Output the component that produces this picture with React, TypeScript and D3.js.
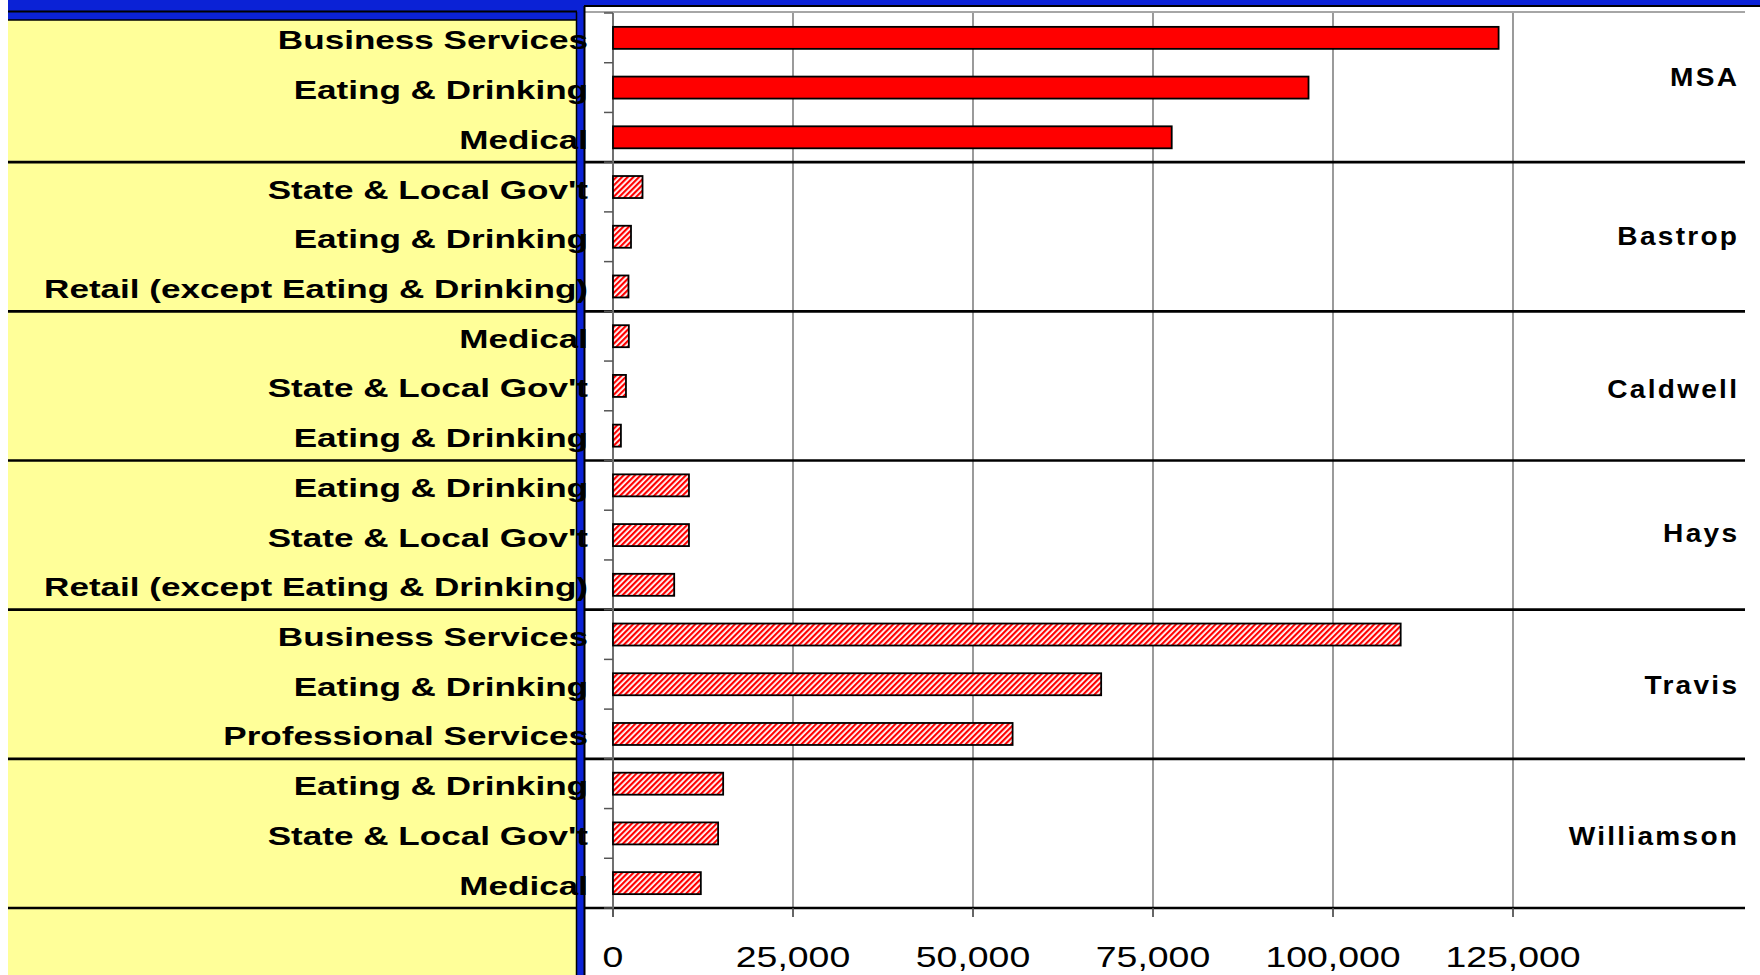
import React from "react";
import * as d3 from "d3";

const regions = ["MSA", "Bastrop", "Caldwell", "Hays", "Travis", "Williamson"];
const regionNudge = [-11, -1, 3, -3, 0, 2];

const categories = [
  "Business Services", "Eating & Drinking", "Medical",
  "State & Local Gov't", "Eating & Drinking", "Retail (except Eating & Drinking)",
  "Medical", "State & Local Gov't", "Eating & Drinking",
  "Eating & Drinking", "State & Local Gov't", "Retail (except Eating & Drinking)",
  "Business Services", "Eating & Drinking", "Professional Services",
  "Eating & Drinking", "State & Local Gov't", "Medical",
];

const values = [
  123000, 96600, 77600,
  4100, 2500, 2150,
  2200, 1800, 1100,
  10550, 10550, 8500,
  109400, 67800, 55500,
  15300, 14600, 12200,
];

const tickValues = [0, 25000, 50000, 75000, 100000, 125000];

const BLUE = "#0B22D6";
const YELLOW = "#FFFF99";
const FONT = "'Liberation Sans', Arial, Helvetica, sans-serif";

export default function App() {
  const W = 1760, H = 975;
  const x = d3.scaleLinear().domain([0, 125000]).range([613, 1513]);
  const p = 0.5575;
  const y = d3
    .scaleBand<number>()
    .domain(d3.range(categories.length))
    .range([13, 908])
    .paddingInner(p)
    .paddingOuter(p / 2);
  const step = y.step();
  const boundary = (k: number) => 13 + k * step;
  const fmt = d3.format(",");
  const lineRight = 1745;

  return (
    <svg
      width={W}
      height={H}
      style={{ position: "absolute", left: 0, top: 0, background: "#fff" }}
    >
      <defs>
        <pattern
          id="hatch"
          patternUnits="userSpaceOnUse"
          width={4}
          height={4}
          patternTransform="rotate(45)"
        >
          <rect x={0} y={0} width={4} height={4} fill="#fff" />
          <rect x={0} y={0} width={2.2} height={4} fill="#FF0000" />
        </pattern>
      </defs>

      {/* frame */}
      <rect x={8} y={0} width={W - 8} height={7} fill={BLUE} />
      <rect x={8} y={0} width={576} height={20} fill={BLUE} />
      <line x1={8} x2={584} y1={11.5} y2={11.5} stroke="#000" strokeWidth={2} />
      <line x1={584} x2={W} y1={6} y2={6} stroke="#000" strokeWidth={2} />
      <rect x={8} y={20} width={568} height={H - 20} fill={YELLOW} />
      <line x1={8} x2={576} y1={20} y2={20} stroke="#000" strokeWidth={1.5} />
      <line x1={584} x2={lineRight} y1={12} y2={12} stroke="#888" strokeWidth={1.5} />

      {/* gridlines */}
      {tickValues.slice(1).map((t) => (
        <line
          key={"g" + t}
          x1={x(t)}
          x2={x(t)}
          y1={boundary(0)}
          y2={boundary(18) + 9}
          stroke="#707070"
          strokeWidth={1.4}
        />
      ))}

      {/* group separators */}
      {d3.range(1, 7).map((g) => (
        <line
          key={"s" + g}
          x1={8}
          x2={lineRight}
          y1={boundary(g * 3)}
          y2={boundary(g * 3)}
          stroke="#000"
          strokeWidth={2.6}
        />
      ))}

      {/* blue stripe */}
      <rect x={577} y={7} width={7} height={H - 7} fill={BLUE} />
      <line x1={576.5} x2={576.5} y1={12} y2={H} stroke="#000" strokeWidth={1.5} />
      <line x1={584.5} x2={584.5} y1={6} y2={H} stroke="#000" strokeWidth={2} />

      {/* y axis */}
      <line x1={x(0)} x2={x(0)} y1={boundary(0)} y2={boundary(18) + 9} stroke="#707070" strokeWidth={2} />
      {d3.range(0, 19).map((k) => (
        <line
          key={"yt" + k}
          x1={x(0) - 9}
          x2={x(0)}
          y1={boundary(k)}
          y2={boundary(k)}
          stroke="#555"
          strokeWidth={1.5}
        />
      ))}

      {/* x ticks */}
      {tickValues.map((t) => (
        <line
          key={"xt" + t}
          x1={x(t)}
          x2={x(t)}
          y1={boundary(18)}
          y2={boundary(18) + 9}
          stroke="#555"
          strokeWidth={1.5}
        />
      ))}

      {/* bars */}
      {values.map((v, i) => (
        <rect
          key={"b" + i}
          x={x(0)}
          y={y(i)!}
          width={x(v) - x(0)}
          height={y.bandwidth()}
          fill={i < 3 ? "#FF0000" : "url(#hatch)"}
          stroke="#000"
          strokeWidth={1.8}
        />
      ))}

      {/* category labels */}
      {categories.map((c, i) => (
        <text
          key={"c" + i}
          transform={`translate(588, ${y(i)! + y.bandwidth() / 2 + 11.5}) scale(1.35, 1)`}
          textAnchor="end"
          fontFamily={FONT}
          fontWeight="bold"
          fontSize={26}
          fill="#000"
        >
          {c}
        </text>
      ))}

      {/* region labels */}
      {regions.map((r, g) => (
        <text
          key={"r" + g}
          transform={`translate(1737, ${boundary(g * 3 + 1.5) + 9.5 + regionNudge[g]}) scale(1.08, 1)`}
          textAnchor="end"
          fontFamily={FONT}
          fontWeight="bold"
          fontSize={26}
          letterSpacing={2.1}
          dx={2.1}
          fill="#000"
        >
          {r}
        </text>
      ))}

      {/* x tick labels */}
      {tickValues.map((t) => (
        <text
          key={"xl" + t}
          transform={`translate(${x(t)}, 967) scale(1.29, 1)`}
          textAnchor="middle"
          fontFamily={FONT}
          fontSize={29}
          fill="#000"
        >
          {fmt(t)}
        </text>
      ))}
    </svg>
  );
}
